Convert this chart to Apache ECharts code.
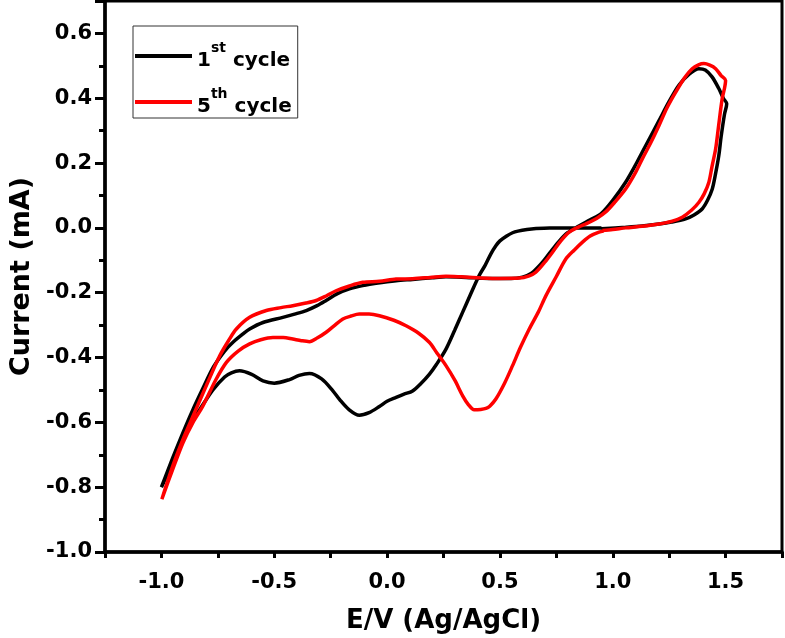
<!DOCTYPE html>
<html>
<head>
<meta charset="utf-8">
<script src="https://cdn.jsdelivr.net/npm/echarts@6/dist/echarts.min.js"></script>
<style>
html,body{margin:0;padding:0;background:#fff;}
#chart{width:785px;height:638px;}
</style>
</head>
<body>
<div id="chart"></div>
<script>
// Series names
const seriesNames = ['1st cycle', '5th cycle'];

// 1st cycle: [E (V), I (mA)] in scan order
const cycle1 = [
  [0.95,0.0],[0.88,0.0],[0.80,0.0],[0.72,0.0],[0.66,-0.002],[0.62,-0.005],[0.58,-0.01],[0.556,-0.015],
  [0.53,-0.025],[0.50,-0.04],[0.482,-0.055],[0.46,-0.08],[0.435,-0.115],[0.408,-0.147],[0.37,-0.205],
  [0.335,-0.26],[0.30,-0.315],[0.261,-0.374],[0.22,-0.42],[0.187,-0.452],[0.15,-0.48],[0.113,-0.503],
  [0.075,-0.513],[0.04,-0.523],[0.0,-0.535],[-0.034,-0.551],[-0.08,-0.57],[-0.123,-0.578],[-0.17,-0.56],
  [-0.21,-0.53],[-0.241,-0.502],[-0.29,-0.466],[-0.344,-0.449],[-0.39,-0.455],[-0.432,-0.468],[-0.5,-0.479],
  [-0.55,-0.472],[-0.60,-0.452],[-0.654,-0.441],[-0.69,-0.447],[-0.72,-0.46],[-0.772,-0.50],[-0.83,-0.56],
  [-0.87,-0.60],[-0.91,-0.66],[-0.95,-0.725],[-1.0,-0.80],
  [-0.95,-0.71],[-0.904,-0.631],[-0.86,-0.56],[-0.816,-0.495],[-0.77,-0.43],[-0.72,-0.38],[-0.683,-0.353],
  [-0.64,-0.328],[-0.609,-0.312],[-0.55,-0.292],[-0.462,-0.276],[-0.41,-0.266],[-0.358,-0.255],[-0.31,-0.24],
  [-0.27,-0.224],[-0.22,-0.203],[-0.167,-0.188],[-0.1,-0.177],[-0.049,-0.171],[0.04,-0.163],[0.113,-0.159],
  [0.2,-0.154],[0.261,-0.151],[0.35,-0.153],[0.45,-0.156],[0.55,-0.156],[0.60,-0.152],[0.64,-0.14],
  [0.68,-0.113],[0.72,-0.078],[0.76,-0.043],[0.80,-0.015],[0.85,0.006],[0.9,0.025],[0.95,0.045],
  [1.0,0.085],[1.057,0.141],[1.1,0.193],[1.131,0.234],[1.17,0.285],[1.205,0.331],[1.25,0.39],[1.293,0.44],
  [1.34,0.475],[1.382,0.491],[1.41,0.487],[1.44,0.466],[1.47,0.43],[1.49,0.40],[1.505,0.383],
  [1.495,0.35],[1.48,0.28],[1.47,0.223],[1.455,0.165],[1.441,0.12],[1.42,0.085],[1.397,0.059],[1.36,0.04],
  [1.323,0.028],[1.26,0.018],[1.205,0.012],[1.13,0.006],[1.057,0.002],[0.95,-0.003]
];

// 5th cycle: [E (V), I (mA)] in scan order
const cycle5 = [
  [0.96,-0.01],[0.939,-0.013],[0.9,-0.025],[0.866,-0.044],[0.83,-0.068],[0.792,-0.096],[0.75,-0.15],
  [0.704,-0.209],[0.67,-0.26],[0.63,-0.312],[0.59,-0.37],[0.556,-0.425],[0.52,-0.48],[0.482,-0.528],
  [0.455,-0.55],[0.438,-0.557],[0.415,-0.56],[0.386,-0.561],[0.36,-0.545],[0.335,-0.518],[0.30,-0.47],
  [0.261,-0.425],[0.22,-0.385],[0.187,-0.353],[0.14,-0.325],[0.084,-0.302],[0.03,-0.285],[-0.034,-0.271],
  [-0.08,-0.266],[-0.123,-0.266],[-0.16,-0.272],[-0.196,-0.281],[-0.235,-0.302],[-0.27,-0.322],[-0.31,-0.34],
  [-0.344,-0.351],[-0.38,-0.348],[-0.418,-0.343],[-0.46,-0.338],[-0.506,-0.338],[-0.56,-0.345],[-0.609,-0.358],
  [-0.66,-0.38],[-0.712,-0.415],[-0.76,-0.47],[-0.816,-0.549],[-0.86,-0.60],[-0.904,-0.662],[-0.95,-0.745],
  [-0.998,-0.837],
  [-0.95,-0.735],[-0.9,-0.645],[-0.85,-0.565],[-0.8,-0.485],[-0.741,-0.394],[-0.7,-0.345],[-0.668,-0.312],
  [-0.609,-0.276],[-0.535,-0.255],[-0.47,-0.246],[-0.418,-0.240],[-0.36,-0.232],[-0.314,-0.224],[-0.27,-0.21],
  [-0.226,-0.194],[-0.17,-0.18],[-0.108,-0.168],[-0.034,-0.165],[0.04,-0.158],[0.113,-0.157],[0.19,-0.153],
  [0.261,-0.149],[0.33,-0.151],[0.408,-0.154],[0.5,-0.156],[0.585,-0.155],[0.63,-0.148],[0.659,-0.137],
  [0.70,-0.105],[0.733,-0.075],[0.77,-0.04],[0.807,-0.013],[0.85,0.003],[0.88,0.012],[0.93,0.03],
  [0.97,0.05],[1.01,0.08],[1.057,0.12],[1.1,0.17],[1.131,0.213],[1.17,0.265],[1.205,0.316],[1.24,0.37],
  [1.279,0.419],[1.32,0.465],[1.352,0.491],[1.38,0.503],[1.404,0.507],[1.43,0.502],[1.456,0.491],
  [1.48,0.47],[1.5,0.455],
  [1.495,0.43],[1.485,0.399],[1.47,0.32],[1.456,0.244],[1.44,0.19],[1.426,0.141],[1.405,0.105],
  [1.382,0.079],[1.35,0.055],[1.308,0.033],[1.26,0.02],[1.205,0.012],[1.13,0.005],[1.057,0.0],
  [1.0,-0.005],[0.954,-0.008]
];

// Axis settings
const xRange = [-1.25, 1.75];
const yRange = [-1.0, 0.7];
const xTitle = 'E/V (Ag/AgCl)';
const yTitle = 'Current (mA)';

const FONT = 'DejaVu Sans';
const chart = echarts.init(document.getElementById('chart'), null, {renderer: 'canvas'});

function xLabel(v) {
  if (Math.abs(Math.round(v * 4)) % 2 !== 0) return '';
  if (Math.abs(v) < 1e-9) return '0.0';
  return v.toFixed(1);
}
function yLabel(v) {
  if (Math.abs(Math.round(v * 10)) % 2 !== 0) return '';
  if (Math.abs(v) < 1e-9) return '0.0';
  return v.toFixed(1);
}
function legendFmt(name) {
  const m = name.match(/^(\d)(\w\w) (.*)$/);
  return '{n|' + m[1] + '}{s|' + m[2] + '}{c| ' + m[3] + '}';
}

const option = {
  animation: false,
  backgroundColor: '#fff',
  grid: {
    left: 105, right: 3, top: 1, bottom: 86,
    show: true, borderColor: '#000', borderWidth: 3,
    containLabel: false, outerBoundsMode: 'none'
  },
  legend: {
    orient: 'vertical',
    left: 133, top: 26,
    padding: [15, 6, 1, 2],
    itemGap: 16,
    itemWidth: 57, itemHeight: 4,
    icon: 'rect',
    borderColor: '#333', borderWidth: 1,
    selectedMode: false,
    data: seriesNames,
    formatter: legendFmt,
    textStyle: {
      color: '#000',
      fontFamily: FONT,
      fontWeight: 'bold',
      rich: {
        n: {fontSize: 20, fontWeight: 'bold', fontFamily: FONT, color: '#000', verticalAlign: 'bottom', padding: [10, 0, 0, 0]},
        s: {fontSize: 14, fontWeight: 'bold', fontFamily: FONT, color: '#000', verticalAlign: 'top'},
        c: {fontSize: 20, fontWeight: 'bold', fontFamily: FONT, color: '#000', verticalAlign: 'bottom', padding: [10, 0, 0, 0]}
      }
    }
  },
  xAxis: {
    type: 'value',
    min: xRange[0], max: xRange[1], interval: 0.25,
    name: xTitle, nameLocation: 'middle', nameGap: 56,
    nameTextStyle: {fontFamily: FONT, fontWeight: 'bold', fontSize: 26, color: '#000'},
    axisLine: {show: true, onZero: false, lineStyle: {color: '#000', width: 3.5}},
    axisTick: {show: true, inside: false, length: 6, lineStyle: {color: '#000', width: 3}},
    axisLabel: {formatter: xLabel, margin: 20, fontFamily: FONT, fontWeight: 'bold', fontSize: 21, color: '#000', showMinLabel: true, showMaxLabel: true},
    splitLine: {show: false}
  },
  yAxis: [
    {
      type: 'value',
      min: yRange[0], max: yRange[1], interval: 0.1,
      name: yTitle, nameLocation: 'middle', nameGap: 70, nameRotate: 90,
      nameTextStyle: {fontFamily: FONT, fontWeight: 'bold', fontSize: 27, color: '#000'},
      axisLine: {show: true, onZero: false, lineStyle: {color: '#000', width: 3.5}},
      axisTick: {show: true, inside: false, length: 6, lineStyle: {color: '#000', width: 3}},
      axisLabel: {formatter: yLabel, margin: 13, fontFamily: FONT, fontWeight: 'bold', fontSize: 21, color: '#000', showMinLabel: true, showMaxLabel: true},
      splitLine: {show: false}
    },
    {
      type: 'value',
      position: 'left',
      offset: 0,
      min: yRange[0], max: yRange[1], interval: 0.2,
      axisLine: {show: false, onZero: false},
      axisTick: {show: true, inside: false, length: 10, lineStyle: {color: '#000', width: 3}},
      axisLabel: {show: false},
      splitLine: {show: false}
    }
  ],
  series: [
    {
      name: seriesNames[0], type: 'line', data: cycle1, yAxisIndex: 0,
      showSymbol: false, symbol: 'none', smooth: 0.3,
      lineStyle: {color: '#000', width: 3.5},
      itemStyle: {color: '#000'}
    },
    {
      name: seriesNames[1], type: 'line', data: cycle5, yAxisIndex: 0,
      showSymbol: false, symbol: 'none', smooth: 0.3,
      lineStyle: {color: '#f00', width: 3.5},
      itemStyle: {color: '#f00'}
    }
  ]
};
chart.setOption(option);
</script>
</body>
</html>
